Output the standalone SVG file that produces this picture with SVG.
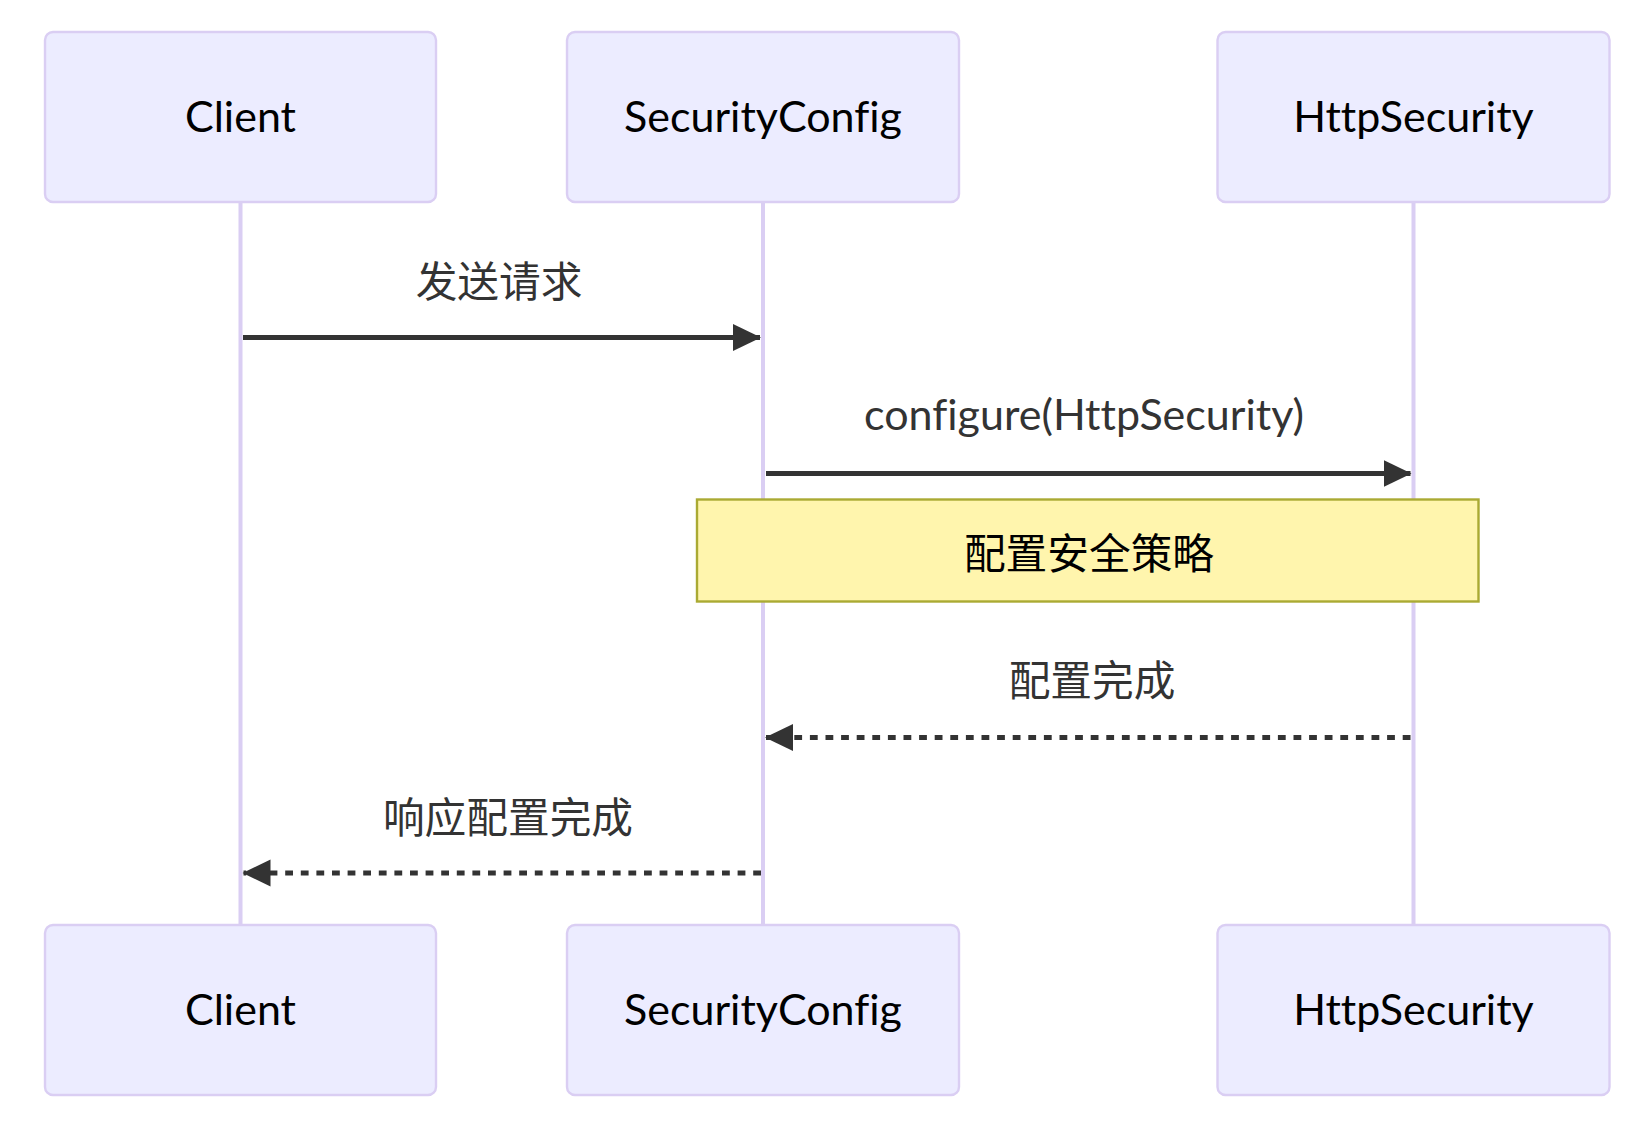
<svg xmlns="http://www.w3.org/2000/svg" width="1634" height="1126" viewBox="0 0 1634 1126">
<style>
.actor{fill:#ececff;stroke:#dacef3;stroke-width:2.4}
.aText{font-family:Lato,"Noto Sans",sans-serif;font-size:43px;fill:#000;text-anchor:middle;font-variant-ligatures:none}
.life{stroke:#dacef3;stroke-width:4}
.msg{stroke:#333;stroke-width:5;fill:none}
.dash{stroke-dasharray:7.8 7.8}
.mText{font-family:Lato,"Noto Sans","Noto Sans CJK SC",sans-serif;font-size:43px;fill:#333;text-anchor:middle;font-variant-ligatures:none}
.cjk{font-family:"Noto Sans CJK SC",sans-serif;font-size:41.7px;dominant-baseline:central;text-anchor:middle}
.note{fill:#fff5ad;stroke:#aaaa33;stroke-width:2.4}
</style>
<defs>
<marker id="arrow" markerUnits="userSpaceOnUse" markerWidth="30" markerHeight="30" refX="27" refY="13.5" orient="auto">
<path d="M0,0 L28,13.5 L0,27 z" fill="#333"/>
</marker>
</defs>
<g id="lifelines">
<line class="life" x1="240.5" y1="202" x2="240.5" y2="925"/>
<line class="life" x1="763" y1="202" x2="763" y2="925"/>
<line class="life" x1="1413.5" y1="202" x2="1413.5" y2="925"/>
</g>
<g id="actor-client-top"><rect class="actor" x="45" y="32" width="391" height="170" rx="8"/><text class="aText" x="240.5" y="132">Client</text></g>
<g id="actor-securityconfig-top"><rect class="actor" x="567" y="32" width="392" height="170" rx="8"/><text class="aText" x="763" y="132">SecurityConfig</text></g>
<g id="actor-httpsecurity-top"><rect class="actor" x="1217.5" y="32" width="392" height="170" rx="8"/><text class="aText" x="1413.5" y="132">HttpSecurity</text></g>
<g id="actor-client-bottom"><rect class="actor" x="45" y="925" width="391" height="170" rx="8"/><text class="aText" x="240.5" y="1025">Client</text></g>
<g id="actor-securityconfig-bottom"><rect class="actor" x="567" y="925" width="392" height="170" rx="8"/><text class="aText" x="763" y="1025">SecurityConfig</text></g>
<g id="actor-httpsecurity-bottom"><rect class="actor" x="1217.5" y="925" width="392" height="170" rx="8"/><text class="aText" x="1413.5" y="1025">HttpSecurity</text></g>
<g id="note"><rect class="note" x="697" y="499.5" width="781.5" height="102"/><text class="cjk" x="1089" y="551" fill="#000">配置安全策略</text></g>
<g id="connectors">
<line class="msg" x1="243" y1="337.5" x2="760" y2="337.5" marker-end="url(#arrow)"/>
<line class="msg" x1="766" y1="473.5" x2="1410.5" y2="473.5" marker-end="url(#arrow)"/>
<line class="msg dash" x1="1410.5" y1="737.5" x2="766" y2="737.5" marker-end="url(#arrow)"/>
<line class="msg dash" x1="761" y1="873" x2="243.5" y2="873" marker-end="url(#arrow)"/>
</g>
<g id="labels">
<text class="cjk" x="499" y="279" fill="#333">发送请求</text>
<text class="mText" x="1084" y="430">configure(HttpSecurity)</text>
<text class="cjk" x="1092" y="678" fill="#333">配置完成</text>
<text class="cjk" x="508" y="815" fill="#333">响应配置完成</text>
</g>
</svg>
